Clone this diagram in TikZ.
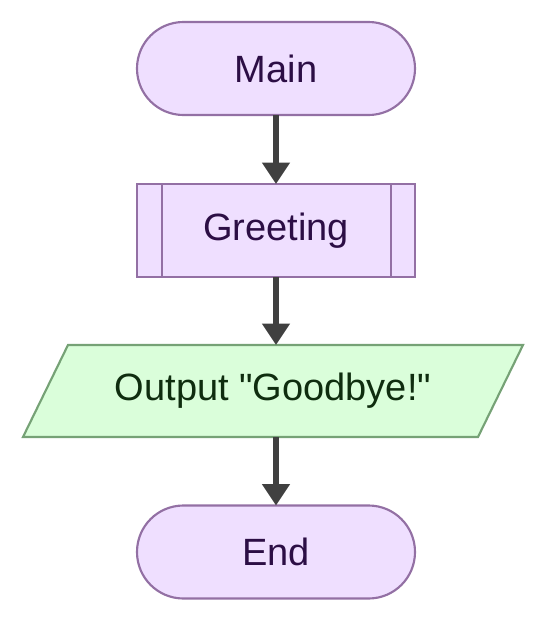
\documentclass[tikz,border=0pt]{standalone}
\usepackage{fontspec}
\setmainfont{Liberation Sans}[Ligatures=TeXOff]
\usetikzlibrary{arrows.meta,calc,backgrounds}

\definecolor{lilacfill}{HTML}{EFDFFF}
\definecolor{lilacline}{HTML}{9370A4}
\definecolor{lilactext}{HTML}{2C0E45}
\definecolor{mintfill}{HTML}{DAFEDA}
\definecolor{mintline}{HTML}{76A276}
\definecolor{minttext}{HTML}{0F2D0F}
\definecolor{arrowgrey}{HTML}{404040}

\begin{document}
\begin{tikzpicture}[x=0.75pt,y=-0.75pt,
	every node/.style={font=\fontsize{28.5}{34}\selectfont, outer sep=0pt},
	term/.style={draw=lilacline, fill=lilacfill, text=lilactext, line width=1.6pt,
		minimum width=208.5pt, minimum height=69.75pt, rounded corners=34.8pt},
	subproc/.style={draw=lilacline, fill=lilacfill, text=lilactext, line width=1.6pt,
		minimum width=208.5pt, minimum height=69.75pt},
	io/.style={text=minttext, minimum width=341.25pt, minimum height=69pt},
	flow/.style={draw=arrowgrey, line width=3.8pt, -{Triangle[width=20pt,length=16pt]}}]
	\useasboundingbox (0,0) rectangle (553,622);
	% boxes
	\node[term] (main) at (276,68.5) {Main};
	\node[subproc] (greet) at (276,230.5) {Greeting};
	\draw[lilacline, line width=1.6pt] ($(greet.north west)+(25,0)$) -- ($(greet.south west)+(25,0)$);
	\draw[lilacline, line width=1.6pt] ($(greet.north east)+(-24,0)$) -- ($(greet.south east)+(-24,0)$);
	\node[io] (out) at (273,391) {Output "Goodbye!"};
	\begin{scope}[on background layer]
		\draw[mintline, fill=mintfill, line width=1.6pt]
			($(out.south west)+(-22.5,0)$) -- ($(out.north west)+(22.5,0)$) --
			($(out.north east)+(22.5,0)$) -- ($(out.south east)+(-22.5,0)$) -- cycle;
	\end{scope}
	\node[term] (end) at (276,552) {End};
	% arrows
	\foreach \a/\b in {main/greet,greet/out,out/end}
		\draw[flow] (\a.south -| main.south) -- (\b.north -| main.south);
\end{tikzpicture}
\end{document}
